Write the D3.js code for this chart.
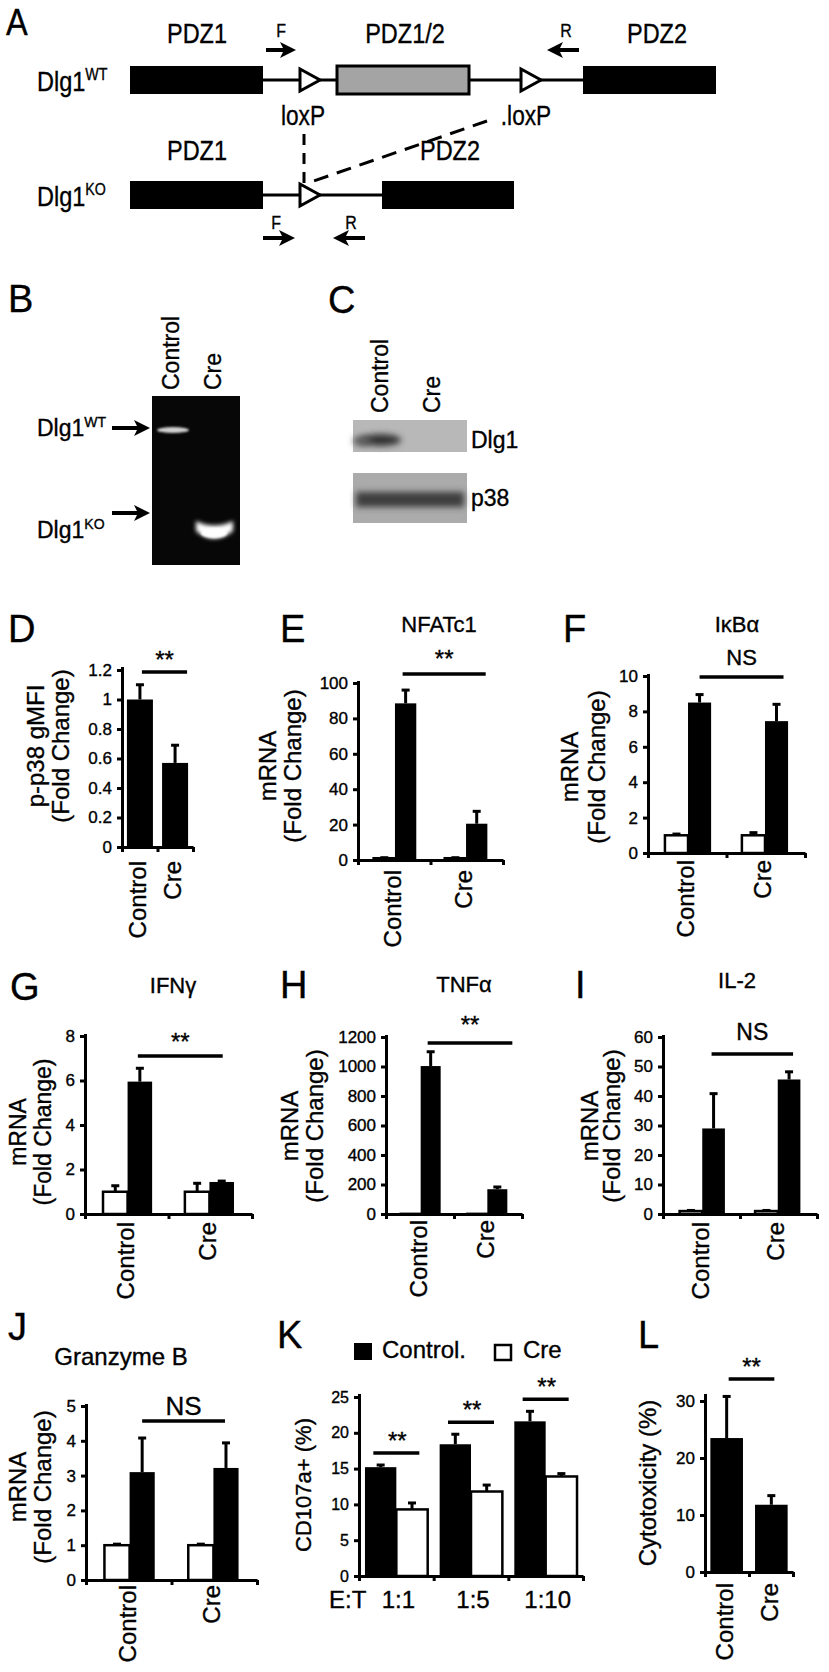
<!DOCTYPE html>
<html lang="en">
<head>
<meta charset="UTF-8">
<title>Dlg1 figure</title>
<script src="https://cdn.jsdelivr.net/npm/d3@7"></script>
<style>
  body { margin: 0; background: #fff; }
  svg { display: block; font-family: "Liberation Sans", Arial, Helvetica, sans-serif; }
  svg text { fill: #000; stroke: #000; stroke-width: 0.35px; }
</style>
</head>
<body>
<svg id="mainsvg" width="829" height="1672"></svg>
<script>
// ---- data ----
const groups = ['Control', 'Cre'];

const p38Vals = [1.0, 0.57];
const p38Err = [0.10, 0.12];
const p38Ticks = [0, 0.2, 0.4, 0.6, 0.8, 1, 1.2];

const nfatWhite = [1.0, 1.0];
const nfatWhiteErr = [0.3, 0.3];
const nfatBlack = [88.5, 20.5];
const nfatBlackErr = [7.5, 7];
const nfatTicks = [0, 20, 40, 60, 80, 100];

const ikbWhite = [1.0, 1.0];
const ikbWhiteErr = [0.07, 0.15];
const ikbBlack = [8.5, 7.45];
const ikbBlackErr = [0.45, 0.95];
const ikbTicks = [0, 2, 4, 6, 8, 10];

const ifngWhite = [1.0, 1.0];
const ifngWhiteErr = [0.27, 0.38];
const ifngBlack = [5.95, 1.44];
const ifngBlackErr = [0.6, 0.04];
const ifngTicks = [0, 2, 4, 6, 8];

const tnfWhite = [1, 1];
const tnfWhiteErr = [0, 0];
const tnfBlack = [1003, 168];
const tnfBlackErr = [97, 15];
const tnfTicks = [0, 200, 400, 600, 800, 1000, 1200];

const il2White = [1.0, 1.0];
const il2WhiteErr = [0.2, 0.2];
const il2Black = [29, 45.6];
const il2BlackErr = [11.8, 2.6];
const il2Ticks = [0, 10, 20, 30, 40, 50, 60];

const gzmbWhite = [1.0, 1.0];
const gzmbWhiteErr = [0.03, 0.03];
const gzmbBlack = [3.1, 3.22];
const gzmbBlackErr = [0.98, 0.72];
const gzmbTicks = [0, 1, 2, 3, 4, 5];

const etRatios = ['1:1', '1:5', '1:10'];
const cd107Control = [15.2, 18.4, 21.6];
const cd107ControlErr = [0.3, 1.4, 1.4];
const cd107Cre = [9.3, 11.8, 13.9];
const cd107CreErr = [0.9, 0.9, 0.4];
const cd107Ticks = [0, 5, 10, 15, 20, 25];

const cytoVals = [23.5, 11.8];
const cytoErr = [7.3, 1.6];
const cytoTicks = [0, 10, 20, 30];

// ---- helpers ----
const svg = d3.select('#mainsvg');
const BLACK = '#000';

function label(x, y, s, size, anchor) {
  return svg.append('text').attr('x', x).attr('y', y)
    .attr('font-size', size).attr('text-anchor', anchor || 'start').text(s);
}
function rotLabel(x, y, s, size, anchor) {
  return svg.append('text')
    .attr('transform', `translate(${x},${y}) rotate(-90)`)
    .attr('dy', '0.35em').attr('font-size', size)
    .attr('text-anchor', anchor || 'middle').text(s);
}
// condensed text for the gene map
function narrow(x, y, s, size, anchor) {
  return svg.append('text')
    .attr('transform', `translate(${x},${y}) scale(0.84,1)`)
    .attr('font-size', size).attr('text-anchor', anchor || 'middle').text(s);
}
function supLabel(x, y, main, sup, size, supSize, sx) {
  const t = svg.append('text')
    .attr('transform', `translate(${x},${y}) scale(${sx || 1},1)`)
    .attr('font-size', size);
  t.append('tspan').text(main);
  t.append('tspan').attr('dy', -size * 0.38).attr('font-size', supSize).text(sup);
  return t;
}

// panel letters
const letters = [['B', 8, 312], ['C', 328, 313], ['D', 8, 642], ['E', 280, 642], ['F', 563, 642],
  ['G', 10, 1000], ['H', 280, 998], ['I', 575, 998], ['J', 8, 1340], ['K', 277, 1348], ['L', 638, 1348]];
letters.forEach(([s, x, y]) => label(x, y, s, 38));
svg.append('text').attr('transform', 'translate(6,35) scale(0.88,1)')
  .attr('font-size', 37).text('A');

// ---- A: gene map ----
const defs = svg.append('defs');

function exon(x, cy, w, fill) {
  svg.append('rect').attr('x', x).attr('y', cy - 14).attr('width', w).attr('height', 28)
    .attr('fill', fill).attr('stroke', BLACK).attr('stroke-width', fill === BLACK ? 0 : 3);
}
function loxp(x, cy) {
  svg.append('path').attr('d', `M${x},${cy - 11}L${x},${cy + 11}L${x + 20},${cy}Z`)
    .attr('fill', '#fff').attr('stroke', BLACK).attr('stroke-width', 3)
    .attr('stroke-linejoin', 'miter');
}
function primer(tail, tip, cy) {
  const dir = tip > tail ? 1 : -1;
  const hb = tip - dir * 13;
  svg.append('path')
    .attr('d', `M${tail},${cy - 2}L${hb},${cy - 2}L${hb - dir * 3},${cy - 8}L${tip},${cy}` +
      `L${hb - dir * 3},${cy + 8}L${hb},${cy + 2}L${tail},${cy + 2}Z`)
    .attr('fill', BLACK);
}
function wire(x1, x2, cy) {
  svg.append('line').attr('x1', x1).attr('x2', x2).attr('y1', cy).attr('y2', cy)
    .attr('stroke', BLACK).attr('stroke-width', 3);
}

// wild-type allele
wire(263, 583, 80);
exon(130, 80, 133, BLACK);
loxp(300, 80);
exon(337, 80, 132, '#a4a4a4');
loxp(521, 80);
exon(583, 80, 133, BLACK);
supLabel(37, 91, 'Dlg1', 'WT', 28, 17, 0.84);
narrow(197, 43, 'PDZ1', 28);
narrow(405, 43, 'PDZ1/2', 28);
narrow(657, 43, 'PDZ2', 28);
narrow(281, 37, 'F', 19);
narrow(566, 37, 'R', 19);
primer(266, 296, 50);
primer(579, 547, 50);
narrow(303, 125, 'loxP', 27);
narrow(526, 125, '.loxP', 27);

// knockout allele
wire(263, 382, 195);
exon(130, 195, 133, BLACK);
loxp(300, 195);
exon(382, 195, 132, BLACK);
supLabel(37, 206, 'Dlg1', 'KO', 28, 17, 0.84);
narrow(197, 160, 'PDZ1', 28);
narrow(450, 160, 'PDZ2', 28);
narrow(276, 229, 'F', 19);
narrow(351, 229, 'R', 19);
primer(263, 295, 238);
primer(365, 333, 238);

svg.append('line').attr('x1', 304).attr('y1', 134).attr('x2', 304).attr('y2', 184)
  .attr('stroke', BLACK).attr('stroke-width', 3).attr('stroke-dasharray', '11,8');
svg.append('line').attr('x1', 487).attr('y1', 121).attr('x2', 308).attr('y2', 183)
  .attr('stroke', BLACK).attr('stroke-width', 3).attr('stroke-dasharray', '15,9');

// ---- B: PCR gel ----
function blurFilter(id, sd) {
  defs.append('filter').attr('id', id).attr('x', '-50%').attr('y', '-100%')
    .attr('width', '200%').attr('height', '300%')
    .append('feGaussianBlur').attr('stdDeviation', sd);
}
blurFilter('blur1', 1.2);
blurFilter('blur2', 2);
blurFilter('blur3', 3);

svg.append('rect').attr('x', 152).attr('y', 396).attr('width', 88).attr('height', 169).attr('fill', '#070707');
svg.append('ellipse').attr('cx', 173).attr('cy', 430).attr('rx', 16).attr('ry', 3)
  .attr('fill', '#d0d0d0').attr('filter', 'url(#blur1)');
svg.append('path').attr('d', 'M196,521 Q214,530 233,521 L233,531 Q214,546 196,531 Z')
  .attr('fill', '#fff').attr('filter', 'url(#blur2)');
svg.append('ellipse').attr('cx', 214).attr('cy', 533).attr('rx', 13).attr('ry', 5)
  .attr('fill', '#fff').attr('filter', 'url(#blur1)');
rotLabel(171, 390, 'Control', 23, 'start');
rotLabel(213, 390, 'Cre', 23, 'start');
supLabel(37, 436, 'Dlg1', 'WT', 23, 14);
supLabel(37, 538, 'Dlg1', 'KO', 23, 14);
primer(112, 150, 428);
primer(112, 150, 513);

// ---- C: western blot ----
svg.append('rect').attr('x', 353).attr('y', 420).attr('width', 114).attr('height', 32).attr('fill', '#b8b8b8');
svg.append('rect').attr('x', 353).attr('y', 473).attr('width', 114).attr('height', 50).attr('fill', '#ababab');
svg.append('ellipse').attr('cx', 381).attr('cy', 440).attr('rx', 20).attr('ry', 6)
  .attr('fill', '#333').attr('filter', 'url(#blur3)');
svg.append('ellipse').attr('cx', 362).attr('cy', 441).attr('rx', 9).attr('ry', 5)
  .attr('fill', '#5a5a5a').attr('filter', 'url(#blur3)');
svg.append('rect').attr('x', 356).attr('y', 492).attr('width', 108).attr('height', 15)
  .attr('fill', '#3e3e3e').attr('filter', 'url(#blur3)');
rotLabel(380, 413, 'Control', 23, 'start');
rotLabel(432, 413, 'Cre', 23, 'start');
label(471, 448, 'Dlg1', 23);
label(471, 506, 'p38', 23);

// ---- bar panels ----
function drawPanel(o) {
  const g = svg.append('g');
  const x = d3.scaleBand().domain(o.cats).range([o.x0, o.x1])
    .paddingInner(o.pi).paddingOuter(o.po);
  const xs = d3.scaleBand().domain(o.series.map((s, i) => i)).range([0, x.bandwidth()]);
  const y = d3.scaleLinear().domain([0, o.ticks[o.ticks.length - 1]]).range([o.yb, o.yt]);

  o.series.forEach((s, i) => {
    const rows = o.cats.map((c, j) => ({ c, v: s.vals[j], e: s.errs[j] }));
    g.selectAll(null).data(rows).join('rect')
      .attr('x', d => x(d.c) + xs(i))
      .attr('y', d => y(d.v))
      .attr('width', xs.bandwidth())
      .attr('height', d => o.yb - y(d.v))
      .attr('fill', s.fill)
      .attr('stroke', BLACK)
      .attr('stroke-width', s.fill === BLACK ? 0 : 2.5);
    const eb = g.selectAll(null).data(rows.filter(d => d.e > 0)).join('g')
      .attr('transform', d => `translate(${x(d.c) + xs(i) + xs.bandwidth() / 2},0)`);
    eb.append('line').attr('y1', d => y(d.v)).attr('y2', d => y(d.v + d.e))
      .attr('stroke', BLACK).attr('stroke-width', 3);
    eb.append('line').attr('x1', -4).attr('x2', 4)
      .attr('y1', d => y(d.v + d.e)).attr('y2', d => y(d.v + d.e))
      .attr('stroke', BLACK).attr('stroke-width', 3);
  });

  // x axis with ticks at group boundaries
  const bounds = [o.x0];
  for (let k = 1; k < o.cats.length; k++) {
    bounds.push((x(o.cats[k - 1]) + x.bandwidth() + x(o.cats[k])) / 2);
  }
  bounds.push(o.x1);
  const xl = d3.scaleLinear().domain([o.x0 - 4, o.x1]).range([o.x0 - 4, o.x1]);
  const xa = g.append('g').attr('transform', `translate(0,${o.yb})`)
    .call(d3.axisBottom(xl).tickValues(bounds).tickSize(5).tickSizeOuter(0).tickFormat(''));
  xa.selectAll('path, line').attr('stroke', BLACK).attr('stroke-width', 3);

  const ya = g.append('g').attr('transform', `translate(${o.x0},0)`)
    .call(d3.axisLeft(y).tickValues(o.ticks).tickSize(5).tickSizeOuter(0).tickPadding(5)
      .tickFormat(d3.format('~g')));
  ya.select('.domain').attr('d', `M0.5,${o.yb + 1.5}V${o.axisTop || o.yt - 2}`);
  ya.selectAll('path, line').attr('stroke', BLACK).attr('stroke-width', 3);
  ya.selectAll('text').attr('font-size', o.tickSize || 17)
    .attr('font-family', '"Liberation Sans", Arial, sans-serif');

  if (o.catGap !== undefined) {
    o.cats.forEach(c => {
      rotLabel(x(c) + x.bandwidth() / 2 - 2, o.yb + o.catGap, c, 24, 'end');
    });
  }
  if (o.ytitle) {
    o.ytitle.forEach((t, k) => rotLabel(o.ytx[k], o.yty, t, o.ytSize || 24));
  }
  if (o.title) label(o.title[1], o.title[2], o.title[0], o.title[3] || 22, 'middle');
  if (o.sig) {
    const last = o.series.length - 1;
    const cx = c => x(c) + xs(last) + xs.bandwidth() / 2;
    const l = cx(o.cats[0]) + o.sig.dl;
    const r = cx(o.cats[o.cats.length - 1]) + o.sig.dr;
    svg.append('line').attr('x1', l).attr('x2', r).attr('y1', o.sig.y).attr('y2', o.sig.y)
      .attr('stroke', BLACK).attr('stroke-width', 3.5);
    label((l + r) / 2, o.sig.ty, o.sig.text, o.sig.size || 24, 'middle');
  }
  return { x, xs, y };
}

const whiteBlack = (w, we, b, be) => [
  { vals: w, errs: we, fill: '#fff' },
  { vals: b, errs: be, fill: BLACK }
];

// D
drawPanel({
  cats: groups, series: [{ vals: p38Vals, errs: p38Err, fill: BLACK }], ticks: p38Ticks,
  x0: 122, x1: 193, yb: 847, yt: 670, axisTop: 667, pi: 0.26, po: 0.14, catGap: 14,
  ytitle: ['p-p38 gMFI', '(Fold Change)'], ytx: [36, 61], yty: 746,
  sig: { dl: 2, dr: 12, y: 672, ty: 668, text: '**' }
});
// E
drawPanel({
  cats: groups, series: whiteBlack(nfatWhite, nfatWhiteErr, nfatBlack, nfatBlackErr), ticks: nfatTicks,
  x0: 358, x1: 503, yb: 860, yt: 683, pi: 0.4, po: 0.22, catGap: 10,
  ytitle: ['mRNA', '(Fold Change)'], ytx: [268, 293], yty: 766,
  title: ['NFATc1', 439, 632],
  sig: { dl: -3, dr: 9, y: 674, ty: 667, text: '**' }
});
// F
drawPanel({
  cats: groups, series: whiteBlack(ikbWhite, ikbWhiteErr, ikbBlack, ikbBlackErr), ticks: ikbTicks,
  x0: 648, x1: 805, yb: 853, yt: 676, pi: 0.4, po: 0.22, catGap: 7,
  ytitle: ['mRNA', '(Fold Change)'], ytx: [570, 597], yty: 767,
  title: ['I\u03BAB\u03B1', 737, 632],
  sig: { dl: 0, dr: 7, y: 677, ty: 665, text: 'NS', size: 22 }
});
// G
drawPanel({
  cats: groups, series: whiteBlack(ifngWhite, ifngWhiteErr, ifngBlack, ifngBlackErr), ticks: ifngTicks,
  x0: 85, x1: 252, yb: 1214, yt: 1036, pi: 0.4, po: 0.22, catGap: 8,
  ytitle: ['mRNA', '(Fold Change)'], ytx: [18, 43], yty: 1132, ytSize: 23,
  title: ['IFN\u03B3', 173, 993],
  sig: { dl: -2, dr: 1, y: 1056, ty: 1050, text: '**' }
});
// H
drawPanel({
  cats: groups, series: whiteBlack(tnfWhite, tnfWhiteErr, tnfBlack, tnfBlackErr), ticks: tnfTicks,
  x0: 386, x1: 522, yb: 1214, yt: 1037, pi: 0.4, po: 0.22, catGap: 6,
  ytitle: ['mRNA', '(Fold Change)'], ytx: [290, 315], yty: 1126,
  title: ['TNF\u03B1', 464, 992],
  sig: { dl: -3, dr: 15, y: 1043, ty: 1033, text: '**' }
});
// I
drawPanel({
  cats: groups, series: whiteBlack(il2White, il2WhiteErr, il2Black, il2BlackErr), ticks: il2Ticks,
  x0: 663, x1: 817, yb: 1214, yt: 1037, pi: 0.4, po: 0.22, catGap: 8,
  ytitle: ['mRNA', '(Fold Change)'], ytx: [590, 612], yty: 1126,
  title: ['IL-2', 737, 988],
  sig: { dl: -2, dr: 4, y: 1054, ty: 1040, text: 'NS', size: 23 }
});
// J
drawPanel({
  cats: groups, series: whiteBlack(gzmbWhite, gzmbWhiteErr, gzmbBlack, gzmbBlackErr), ticks: gzmbTicks,
  x0: 86, x1: 257, yb: 1580, yt: 1406, pi: 0.4, po: 0.22, catGap: 5,
  ytitle: ['mRNA', '(Fold Change)'], ytx: [18, 43], yty: 1487,
  title: ['Granzyme B', 121, 1365, 24],
  sig: { dl: 0, dr: -1, y: 1421, ty: 1415, text: 'NS', size: 26 }
});
// K
const k = drawPanel({
  cats: etRatios,
  series: [{ vals: cd107Control, errs: cd107ControlErr, fill: BLACK },
           { vals: cd107Cre, errs: cd107CreErr, fill: '#fff' }],
  ticks: cd107Ticks, tickSize: 16,
  x0: 359, x1: 583, yb: 1576, yt: 1397, axisTop: 1394, pi: 0.16, po: 0.08,
  ytitle: ['CD107a+ (%)'], ytx: [303], yty: 1485, ytSize: 22
});
etRatios.forEach((r, i) => {
  const cx = k.x(r) + k.x.bandwidth() / 2;
  label(cx + 2, 1608, r, 24, 'middle');
  const top = Math.max(cd107Control[i] + cd107ControlErr[i], cd107Cre[i] + cd107CreErr[i]);
  const ly = k.y(top) - 12;
  svg.append('line').attr('x1', cx - 23).attr('x2', cx + 23).attr('y1', ly).attr('y2', ly)
    .attr('stroke', BLACK).attr('stroke-width', 3.5);
  label(cx + 1, ly - 4, '**', 24, 'middle');
});
label(329, 1608, 'E:T', 24);
svg.append('rect').attr('x', 354).attr('y', 1343).attr('width', 18).attr('height', 17).attr('fill', BLACK);
label(382, 1358, 'Control.', 24);
svg.append('rect').attr('x', 495).attr('y', 1345).attr('width', 16).attr('height', 15)
  .attr('fill', '#fff').attr('stroke', BLACK).attr('stroke-width', 2.5);
label(523, 1358, 'Cre', 24);
// L
drawPanel({
  cats: groups, series: [{ vals: cytoVals, errs: cytoErr, fill: BLACK }], ticks: cytoTicks,
  x0: 705, x1: 793, yb: 1572, yt: 1401, axisTop: 1394, pi: 0.27, po: 0.12, catGap: 11,
  ytitle: ['Cytotoxicity (%)'], ytx: [648], yty: 1483,
  sig: { dl: 2, dr: 3, y: 1379, ty: 1375, text: '**' }
});
</script>
</body>
</html>
